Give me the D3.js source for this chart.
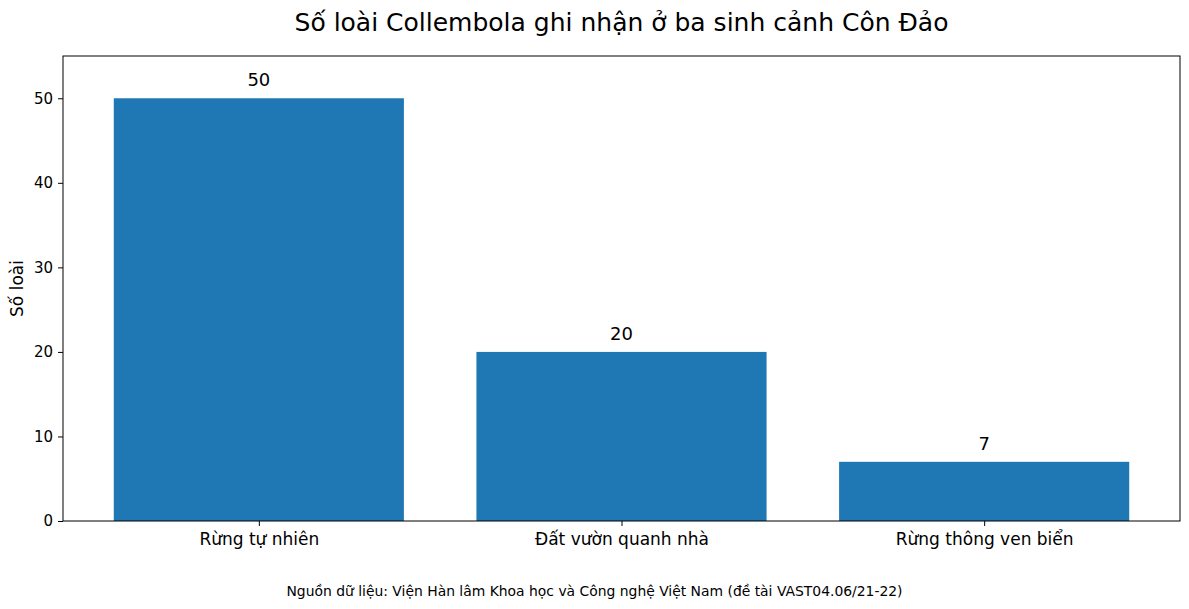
<!DOCTYPE html>
<html>
<head>
<meta charset="utf-8">
<script src="https://cdn.jsdelivr.net/npm/d3@7"></script>
<style>
  html, body { margin: 0; padding: 0; background: #fff; }
  svg { display: block; font-family: "DejaVu Sans", sans-serif; }
  .axis path, .axis line { stroke: #000; stroke-width: 1; }
  .axis text { fill: #000; }
</style>
</head>
<body>
<div id="chart"></div>
<script>
const categories = ['Rừng tự nhiên', 'Đất vườn quanh nhà', 'Rừng thông ven biển'];
const speciesCounts = [50, 20, 7];
const yTicks = [0, 10, 20, 30, 40, 50];
const titleText = 'Số loài Collembola ghi nhận ở ba sinh cảnh Côn Đảo';
const yLabelText = 'Số loài';
const sourceText = 'Nguồn dữ liệu: Viện Hàn lâm Khoa học và Công nghệ Việt Nam (đề tài VAST04.06/21-22)';

const width = 1189;
const height = 609;
const margin = { top: 56, right: 9, bottom: 88, left: 63 };
const barColor = '#1f77b4';
const fontFamily = '"DejaVu Sans", sans-serif';

const svg = d3.select('#chart').append('svg')
  .attr('width', width)
  .attr('height', height);

// matplotlib-style x: bars of width 0.8 with 5% margins
const x = d3.scaleLinear()
  .domain([-0.4 - 0.14, categories.length - 1 + 0.4 + 0.14])
  .range([margin.left, width - margin.right]);
const y = d3.scaleLinear()
  .domain([0, 55])
  .range([height - margin.bottom, margin.top]);

svg.selectAll('.bar').data(speciesCounts).enter().append('rect')
  .attr('class', 'bar')
  .attr('x', (d, i) => x(i - 0.4))
  .attr('width', (d, i) => x(i + 0.4) - x(i - 0.4))
  .attr('y', (d) => y(d))
  .attr('height', (d) => y(0) - y(d))
  .attr('fill', barColor);

svg.selectAll('.bar-label').data(speciesCounts).enter().append('text')
  .attr('class', 'bar-label')
  .attr('x', (d, i) => x(i))
  .attr('y', (d) => y(d) - 12)
  .attr('text-anchor', 'middle')
  .attr('font-size', 18)
  .text((d) => d);

svg.append('g').attr('class', 'axis')
  .attr('transform', 'translate(' + margin.left + ',0)')
  .call(d3.axisLeft(y).tickValues(yTicks).tickSize(5).tickPadding(5).tickSizeOuter(0))
  .attr('font-family', fontFamily)
  .attr('font-size', 15)
  .call((g) => g.select('.domain').remove());

svg.append('g').attr('class', 'axis')
  .attr('transform', 'translate(0,' + (height - margin.bottom) + ')')
  .call(d3.axisBottom(x).tickValues(d3.range(categories.length)).tickFormat((i) => categories[i]).tickSize(5).tickPadding(7).tickSizeOuter(0))
  .attr('font-family', fontFamily)
  .attr('font-size', 17)
  .call((g) => g.select('.domain').remove());

// frame
svg.append('rect')
  .attr('x', margin.left)
  .attr('y', margin.top)
  .attr('width', width - margin.left - margin.right)
  .attr('height', height - margin.top - margin.bottom)
  .attr('fill', 'none')
  .attr('stroke', '#000')
  .attr('stroke-width', 1);

svg.append('text')
  .attr('x', (margin.left + width - margin.right) / 2)
  .attr('y', 31)
  .attr('text-anchor', 'middle')
  .attr('font-size', 25)
  .text(titleText);

svg.append('text')
  .attr('transform', 'translate(23,' + ((margin.top + height - margin.bottom) / 2) + ') rotate(-90)')
  .attr('text-anchor', 'middle')
  .attr('font-size', 17)
  .text(yLabelText);

svg.append('text')
  .attr('x', width / 2)
  .attr('y', 596)
  .attr('text-anchor', 'middle')
  .attr('font-size', 13.9)
  .text(sourceText);
</script>
</body>
</html>
